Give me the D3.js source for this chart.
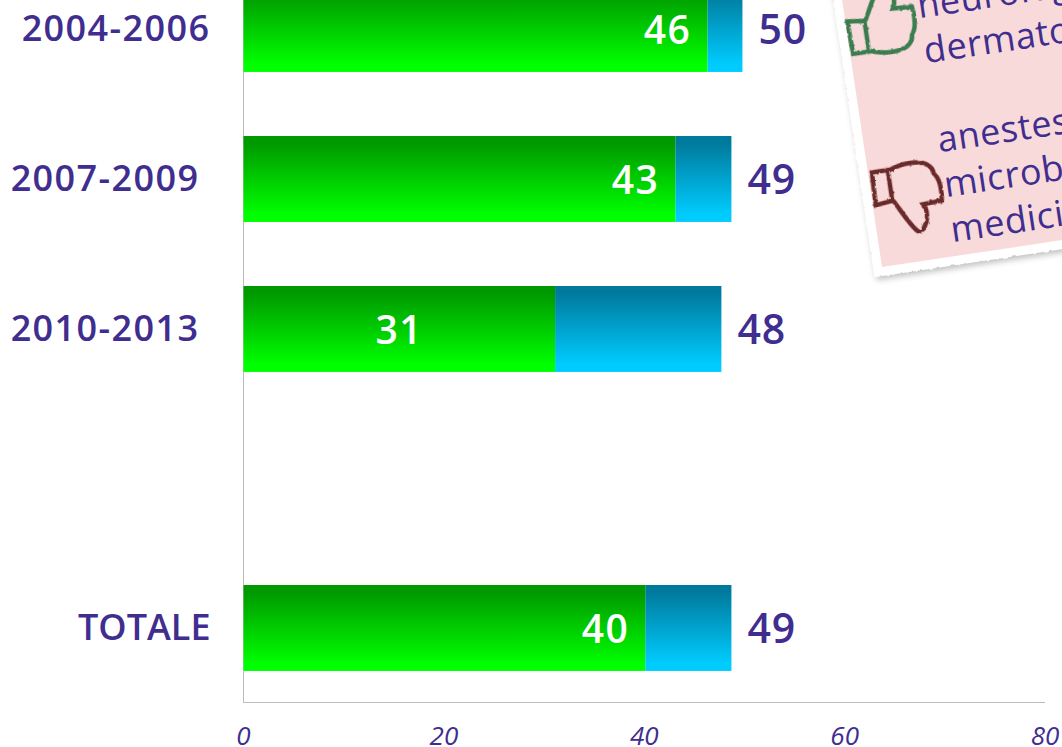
<!DOCTYPE html>
<html>
<head>
<meta charset="utf-8">
<script src="https://cdn.jsdelivr.net/npm/d3@7"></script>
<style>
  html, body { margin: 0; padding: 0; background: #fff; overflow: hidden; }
  text { font-family: "Open Sans", "Noto Sans", sans-serif; }
</style>
</head>
<body>
<div id="chart"></div>
<script>
const categories = ["2004-2006", "2007-2009", "2010-2013", "", "TOTALE"];
const greenValues = [46.3, 43.1, 31.1, null, 40.1];
const totalValues = [49.8, 48.7, 47.7, null, 48.7];
const xTicks = [0, 20, 40, 60, 80];
const noteUp = ["neurologia", "dermatologia"];
const noteDown = ["anestesia", "microbiologia", "medicina"];

const width = 1062;
const height = 747;
const ink = "#3f2e8f";

const svg = d3.select("#chart")
    .append("svg")
    .attr("width", width)
    .attr("height", height)
    .style("display", "block");

const defs = svg.append("defs");

function gradient(id, top, bottom) {
    const g = defs.append("linearGradient")
        .attr("id", id)
        .attr("x1", 0).attr("y1", 0)
        .attr("x2", 0).attr("y2", 1);
    g.append("stop").attr("offset", "8%").attr("stop-color", top);
    g.append("stop").attr("offset", "92%").attr("stop-color", bottom);
}
gradient("green", "#009900", "#00ff00");
gradient("blue", "#007a9c", "#00ccff");

// rough paper edge
const rough = defs.append("filter")
    .attr("id", "rough")
    .attr("x", "-5%").attr("y", "-5%")
    .attr("width", "110%").attr("height", "110%");
rough.append("feTurbulence")
    .attr("type", "fractalNoise")
    .attr("baseFrequency", 0.25)
    .attr("numOctaves", 2)
    .attr("seed", 4);
rough.append("feDisplacementMap")
    .attr("in", "SourceGraphic")
    .attr("scale", 3);

const blur = defs.append("filter")
    .attr("id", "blur")
    .attr("x", "-10%").attr("y", "-10%")
    .attr("width", "120%").attr("height", "120%");
blur.append("feGaussianBlur").attr("stdDeviation", 3);

const xScale = d3.scaleLinear()
    .domain([0, 80])
    .range([243.5, 1045]);
const yScale = d3.scaleBand()
    .domain(categories)
    .range([-45.7, 703])
    .paddingInner(0.426)
    .paddingOuter(0.213);

// axes
const xAxis = svg.append("g")
    .attr("transform", "translate(0,702.5)")
    .call(d3.axisBottom(xScale).tickValues(xTicks).tickSize(0).tickPadding(24).offset(0));
xAxis.select(".domain").attr("stroke", "#bdbdbd");
xAxis.selectAll("text")
    .attr("fill", ink)
    .style("font-size", "26px")
    .style("font-style", "italic");

const yAxis = svg.append("g")
    .attr("transform", "translate(243.5,0)")
    .call(d3.axisLeft(yScale).tickSize(0).tickPadding(33).offset(0));
yAxis.select(".domain").attr("stroke", "#bdbdbd");
yAxis.selectAll("text")
    .attr("fill", ink)
    .attr("dx", d => (d === "2007-2009" || d === "2010-2013") ? -11 : 0)
    .attr("dy", "0.33em")
    .style("font-size", "36px")
    .style("font-weight", "600")
    .style("letter-spacing", d => d === "TOTALE" ? "0px" : "1.4px");

// bars
const rows = categories
    .map((c, i) => ({ cat: c, green: greenValues[i], total: totalValues[i] }))
    .filter(d => d.total !== null);

const bars = svg.append("g").selectAll("g")
    .data(rows)
    .enter()
    .append("g");

bars.append("rect")
    .attr("x", d => xScale(d.green))
    .attr("y", d => Math.round(yScale(d.cat)))
    .attr("width", d => xScale(d.total) - xScale(d.green))
    .attr("height", yScale.bandwidth())
    .attr("fill", "url(#blue)");

bars.append("rect")
    .attr("x", xScale(0))
    .attr("y", d => Math.round(yScale(d.cat)))
    .attr("width", d => xScale(d.green) - xScale(0))
    .attr("height", yScale.bandwidth())
    .attr("fill", "url(#green)");

// 2010-2013 has its label in the middle of the bar, the others at the end
bars.append("text")
    .attr("x", d => d.cat === "2010-2013" ? xScale(d.green / 2) : xScale(d.green) - 16)
    .attr("y", d => yScale(d.cat) + yScale.bandwidth() / 2 + 15)
    .attr("text-anchor", d => d.cat === "2010-2013" ? "middle" : "end")
    .attr("fill", "#fff")
    .style("font-size", "39px")
    .style("font-weight", "600")
    .style("letter-spacing", "1.5px")
    .text(d => Math.round(d.green));

bars.append("text")
    .attr("x", d => xScale(d.total) + 16)
    .attr("y", d => yScale(d.cat) + yScale.bandwidth() / 2 + 15)
    .attr("fill", ink)
    .style("font-size", "41px")
    .style("font-weight", "600")
    .style("letter-spacing", "1px")
    .text(d => Math.round(d.total));

// the pink note, corner at the lower left, tilted
const note = svg.append("g")
    .attr("transform", "translate(882,267) rotate(-8.5)");

note.append("rect")
    .attr("x", -7).attr("y", -400)
    .attr("width", 420).attr("height", 412)
    .attr("fill", "#888")
    .attr("opacity", 0.55)
    .attr("filter", "url(#blur)");
note.append("rect")
    .attr("x", -9).attr("y", -400)
    .attr("width", 420).attr("height", 409)
    .attr("fill", "#fff")
    .attr("filter", "url(#rough)");
note.append("rect")
    .attr("x", 0).attr("y", -400)
    .attr("width", 420).attr("height", 400)
    .attr("fill", "#f8dada");

function noteLines(lines, lastY) {
    note.append("g").selectAll("text")
        .data(lines)
        .enter()
        .append("text")
        .attr("x", 73.5)
        .attr("y", (d, i) => lastY - (lines.length - 1 - i) * 45.5)
        .attr("fill", ink)
        .style("font-size", "36px")
        .style("letter-spacing", "0.5px")
        .text(d => d);
}
noteLines(noteUp, -195);
noteLines(noteDown, -14);

// thumb pointing down, flipped for the one pointing up
const thumb = "M-31,-30 L-15,-30 L-15,1 L-32,3 Z " +
    "M-15,-29 C-8,-32 4,-35 17,-33 C25,-31 30,-26 30,-20 C35,-14 36,-6 34,8 " +
    "L15,9 C18,14 18,20 16,26 C13,33 9,37 6,35 C0,30 -8,12 -14,1";

note.append("path")
    .attr("d", thumb)
    .attr("transform", "translate(35,-65)")
    .attr("fill", "none")
    .attr("stroke", "#6b2a2c")
    .attr("stroke-width", 4.5)
    .attr("filter", "url(#rough)");

note.append("path")
    .attr("d", thumb)
    .attr("transform", "translate(34,-245) scale(1,-1)")
    .attr("fill", "none")
    .attr("stroke", "#3a7d50")
    .attr("stroke-width", 4.5)
    .attr("filter", "url(#rough)");
</script>
</body>
</html>
